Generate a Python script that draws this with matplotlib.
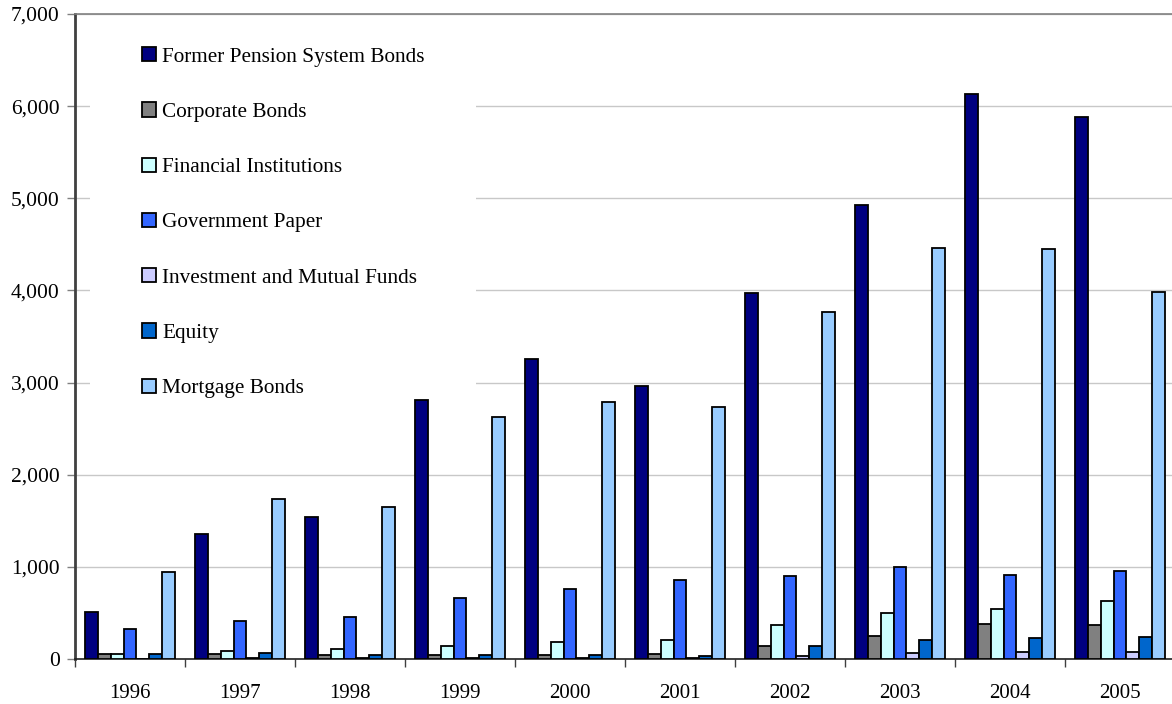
import numpy as np
import matplotlib
matplotlib.use("Agg")
import matplotlib.pyplot as plt
from matplotlib.patches import Rectangle
from matplotlib.ticker import FuncFormatter, FixedLocator

plt.rcParams['font.family'] = ['Liberation Serif', 'DejaVu Serif']

years = ['1996', '1997', '1998', '1999', '2000', '2001', '2002', '2003', '2004', '2005']

series_names = [
    'Former Pension System Bonds',
    'Corporate Bonds',
    'Financial Institutions',
    'Government Paper',
    'Investment and Mutual Funds',
    'Equity',
    'Mortgage Bonds',
]

former_pension = [507, 1353, 1545, 2811, 3253, 2963, 3976, 4931, 6128, 5886]
corporate = [51, 54, 47, 47, 43, 58, 145, 253, 383, 369]
financial = [51, 87, 112, 145, 181, 203, 369, 496, 539, 626]
government = [322, 412, 459, 662, 756, 857, 901, 998, 915, 958]
investment = [5, 10, 10, 12, 10, 10, 33, 62, 76, 73]
equity = [51, 62, 47, 43, 40, 36, 137, 203, 224, 239]
mortgage = [944, 1737, 1650, 2623, 2786, 2738, 3763, 4457, 4450, 3987]

colors = ['#000080', '#808080', '#CCFFFF', '#3366FF', '#CCCCFF', '#0066CC', '#99CCFF']

all_series = [former_pension, corporate, financial, government, investment, equity, mortgage]

fig = plt.figure(figsize=(11.72, 7.04), dpi=100)
ax = fig.add_axes([75 / 1172, 45 / 704, 1100 / 1172, 645 / 704])

x = np.arange(len(years))
w = 0.118
for j, (vals, name, col) in enumerate(zip(all_series, series_names, colors)):
    ax.bar(x + (j - 3) * w, vals, width=w, color=col, edgecolor='black',
           linewidth=1.3, label=name, zorder=3)

ax.set_xlim(-0.5, 9.5)
ax.set_ylim(0, 7000)
ax.set_yticks(np.arange(0, 7001, 1000))
ax.yaxis.set_major_formatter(FuncFormatter(lambda v, p: f'{int(v):,}'))
ax.grid(axis='y', color='#c8c8c8', linewidth=1, zorder=0)

# year labels centered, tick marks at category boundaries
ax.set_xticks(x)
ax.set_xticklabels(years)
ax.tick_params(axis='x', which='major', length=0, pad=18, labelsize=15)
ax.xaxis.set_minor_locator(FixedLocator(np.arange(-0.5, 10, 1)))
ax.tick_params(axis='x', which='minor', length=6, width=1, color='#404040')
ax.tick_params(axis='y', length=6, width=1, color='#808080', labelsize=15.5, pad=5)

ax.spines['left'].set_color('#404040')
ax.spines['left'].set_linewidth(2)
ax.spines['bottom'].set_color('#202020')
ax.spines['bottom'].set_linewidth(1.2)
ax.spines['top'].set_color('#808080')
ax.spines['top'].set_linewidth(1.2)
ax.spines['right'].set_visible(False)

# white legend area that hides the gridlines
ax.add_patch(Rectangle((0.0136, 0.37), 0.351, 0.615, transform=ax.transAxes,
                       facecolor='white', edgecolor='none', zorder=2))

leg = ax.legend(loc='upper left', bbox_to_anchor=(0.061, 0.949), fontsize=15.3,
                frameon=False, handlelength=0.66, handleheight=0.66,
                handletextpad=0.3, labelspacing=1.68, borderpad=0,
                borderaxespad=0)
leg.set_zorder(5)

fig.savefig('out.png', dpi=100)
